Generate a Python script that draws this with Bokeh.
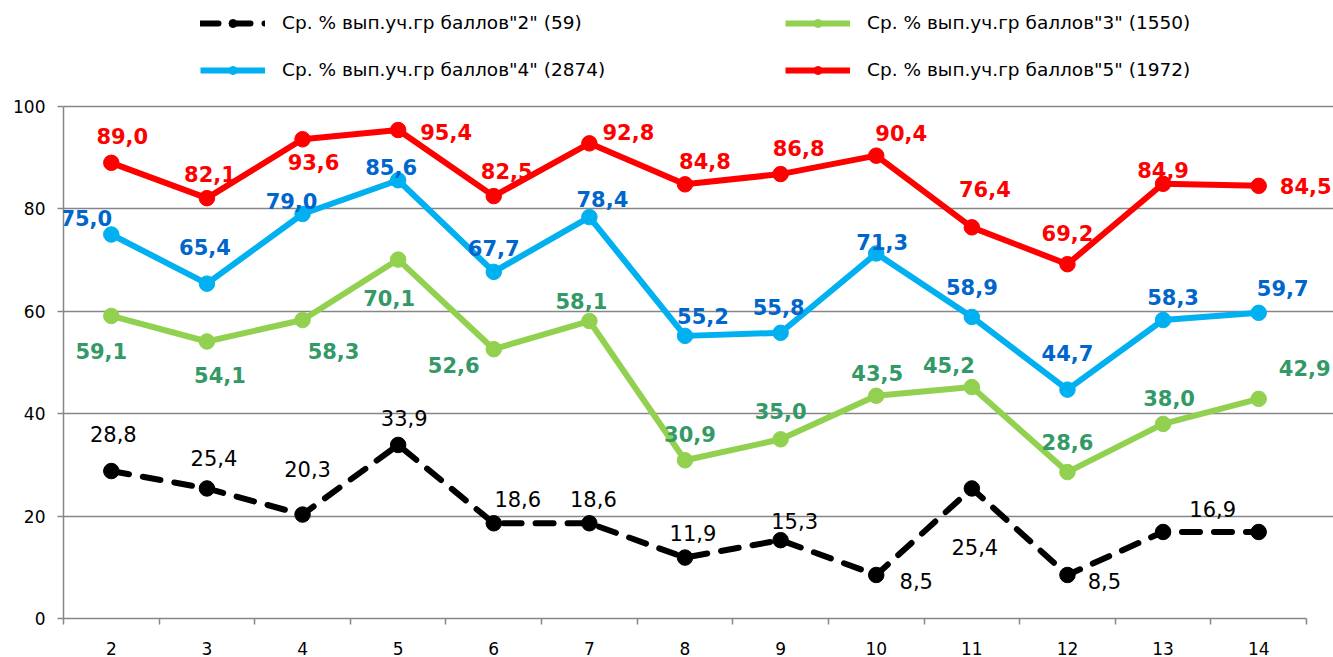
from bokeh.plotting import figure
from bokeh.models import ColumnDataSource, LabelSet, Legend, LegendItem, FixedTicker, Range1d
from bokeh.embed import file_html
from bokeh.resources import INLINE
from bokeh.core.properties import value

# ---- data ----
grades = [2, 3, 4, 5, 6, 7, 8, 9, 10, 11, 12, 13, 14]
s2 = [28.8, 25.4, 20.3, 33.9, 18.6, 18.6, 11.9, 15.3, 8.5, 25.4, 8.5, 16.9, 16.9]
s3 = [59.1, 54.1, 58.3, 70.1, 52.6, 58.1, 30.9, 35.0, 43.5, 45.2, 28.6, 38.0, 42.9]
s4 = [75.0, 65.4, 79.0, 85.6, 67.7, 78.4, 55.2, 55.8, 71.3, 58.9, 44.7, 58.3, 59.7]
s5 = [89.0, 82.1, 93.6, 95.4, 82.5, 92.8, 84.8, 86.8, 90.4, 76.4, 69.2, 84.9, 84.5]
names = ['Ср. % вып.уч.гр баллов"2" (59)',
         'Ср. % вып.уч.гр баллов"3" (1550)',
         'Ср. % вып.уч.гр баллов"4" (2874)',
         'Ср. % вып.уч.гр баллов"5" (1972)']
y_ticks = [0, 20, 40, 60, 80, 100]

# ---- label placement (screen px: dx right, dy down) ----
off2 = [(2, -37), (7, -30), (5, -46), (6, -27), (24, -24), (4, -24), (8, -25),
        (14, -19), (40, 6), (3, 59), (37, 6), (0, 0), (-46, -23)]
hidden2 = [11]
off3 = [(-10, 35), (13, 33), (31, 31), (-9, 38), (-40, 16), (-8, -20), (5, -26),
        (0, -28), (1, -23), (-23, -22), (0, -30), (6, -26), (46, -31)]
off4 = [(-25, -17), (-2, -37), (-11, -13), (-7, -13), (0, -24), (13, -18), (18, -20),
        (-2, -26), (6, -11), (0, -30), (0, -37), (10, -23), (24, -25)]
off5 = [(11, -27), (3, -24), (11, 23), (48, 2), (13, -25), (39, -11), (20, -23),
        (18, -26), (25, -23), (13, -38), (0, -31), (0, -14), (47, 0)]

GRID = "#868686"
FONT = "DejaVu Sans"

# geometry (px): plot frame x 63..1333, y 0..618 ; axes span 63..1306 / 106..618
W, H = 1333, 657
LEFT, BOTTOM = 63, 39
PX_X = 1243 / 13.0
PX_Y = 512 / 100.0
x_lo, x_hi = grades[0] - 0.5, grades[-1] + 0.5
x_end = x_lo + (W - LEFT) / PX_X
y_end = (H - BOTTOM) / PX_Y

p = figure(width=W, height=H, output_backend="svg", toolbar_location=None,
           x_range=Range1d(x_lo, x_end), y_range=Range1d(0, y_end),
           min_border_left=LEFT, min_border_right=0, min_border_top=0, min_border_bottom=BOTTOM)
p.outline_line_color = None
p.background_fill_color = "white"

p.xgrid.grid_line_color = None
p.ygrid.grid_line_color = GRID
p.ygrid.grid_line_width = 1.5
p.ygrid.ticker = FixedTicker(ticks=y_ticks)
p.ygrid.bounds = (x_lo, x_hi)

p.yaxis.ticker = FixedTicker(ticks=y_ticks)
p.yaxis.bounds = (0, 100)
p.yaxis.axis_line_color = GRID
p.yaxis.axis_line_width = 1.5
p.yaxis.major_tick_line_color = GRID
p.yaxis.major_tick_line_width = 1.5
p.yaxis.major_tick_out = 6
p.yaxis.major_tick_in = 0
p.yaxis.minor_tick_line_color = None
p.yaxis.major_label_standoff = 12
p.yaxis.major_label_text_font = FONT
p.yaxis.major_label_text_font_size = "17px"
p.yaxis.major_label_text_color = "black"

p.xaxis.ticker = FixedTicker(ticks=grades, minor_ticks=[g - 0.5 for g in grades] + [x_hi])
p.xaxis.bounds = (x_lo, x_hi)
p.xaxis.axis_line_color = GRID
p.xaxis.axis_line_width = 1.5
p.xaxis.major_tick_line_color = None
p.xaxis.major_tick_out = 0
p.xaxis.major_tick_in = 0
p.xaxis.minor_tick_line_color = GRID
p.xaxis.minor_tick_line_width = 1.5
p.xaxis.minor_tick_out = 6
p.xaxis.minor_tick_in = 0
p.xaxis.major_label_standoff = 17
p.xaxis.major_label_text_font = FONT
p.xaxis.major_label_text_font_size = "17px"
p.xaxis.major_label_text_color = "black"

series = [
    (s2, "black", "#000000", "normal", "21px", off2, "18 14", hidden2),
    (s3, "#92D050", "#339966", "bold", "21px", off3, "solid", []),
    (s4, "#00B0F0", "#0066CC", "bold", "21px", off4, "solid", []),
    (s5, "#FF0000", "#FF0000", "bold", "21px", off5, "solid", []),
]

items = []
for (vals, col, lcol, weight, fsize, offs, dash, hidden), name in zip(series, names):
    src = ColumnDataSource(dict(
        x=grades, y=vals,
        text=["" if i in hidden else f"{v:.1f}".replace(".", ",") for i, v in enumerate(vals)],
        dx=[o[0] for o in offs], dy=[-o[1] for o in offs]))
    ln = p.line("x", "y", source=src, line_color=col, line_width=6, line_dash=dash,
                line_cap="round" if dash != "solid" else "butt", line_join="round")
    sc = p.scatter("x", "y", source=src, size=15.5, marker="circle", fill_color=col, line_color=col)
    lbl = LabelSet(x="x", y="y", text="text", source=src, x_offset="dx", y_offset="dy",
                   text_align="center", text_baseline="middle", text_color=lcol,
                   text_font=value(FONT), text_font_size=fsize, text_font_style=weight)
    p.add_layout(lbl)
    items.append(LegendItem(label=name, renderers=[ln, sc]))

legend_kw = dict(orientation="horizontal", glyph_width=65, glyph_height=20, label_height=20,
                 label_width=480, label_standoff=17, spacing=23, padding=0, margin=0,
                 border_line_color=None, background_fill_alpha=0,
                 label_text_font=FONT, label_text_font_size="18.5px", label_text_color="black")
leg1 = Legend(items=items[0:2], location=(137, 585), **legend_kw)
leg2 = Legend(items=items[2:4], location=(137, 538), **legend_kw)
p.add_layout(leg1, "center")
p.add_layout(leg2, "center")

open("out.html", "w").write(file_html(p, INLINE))
